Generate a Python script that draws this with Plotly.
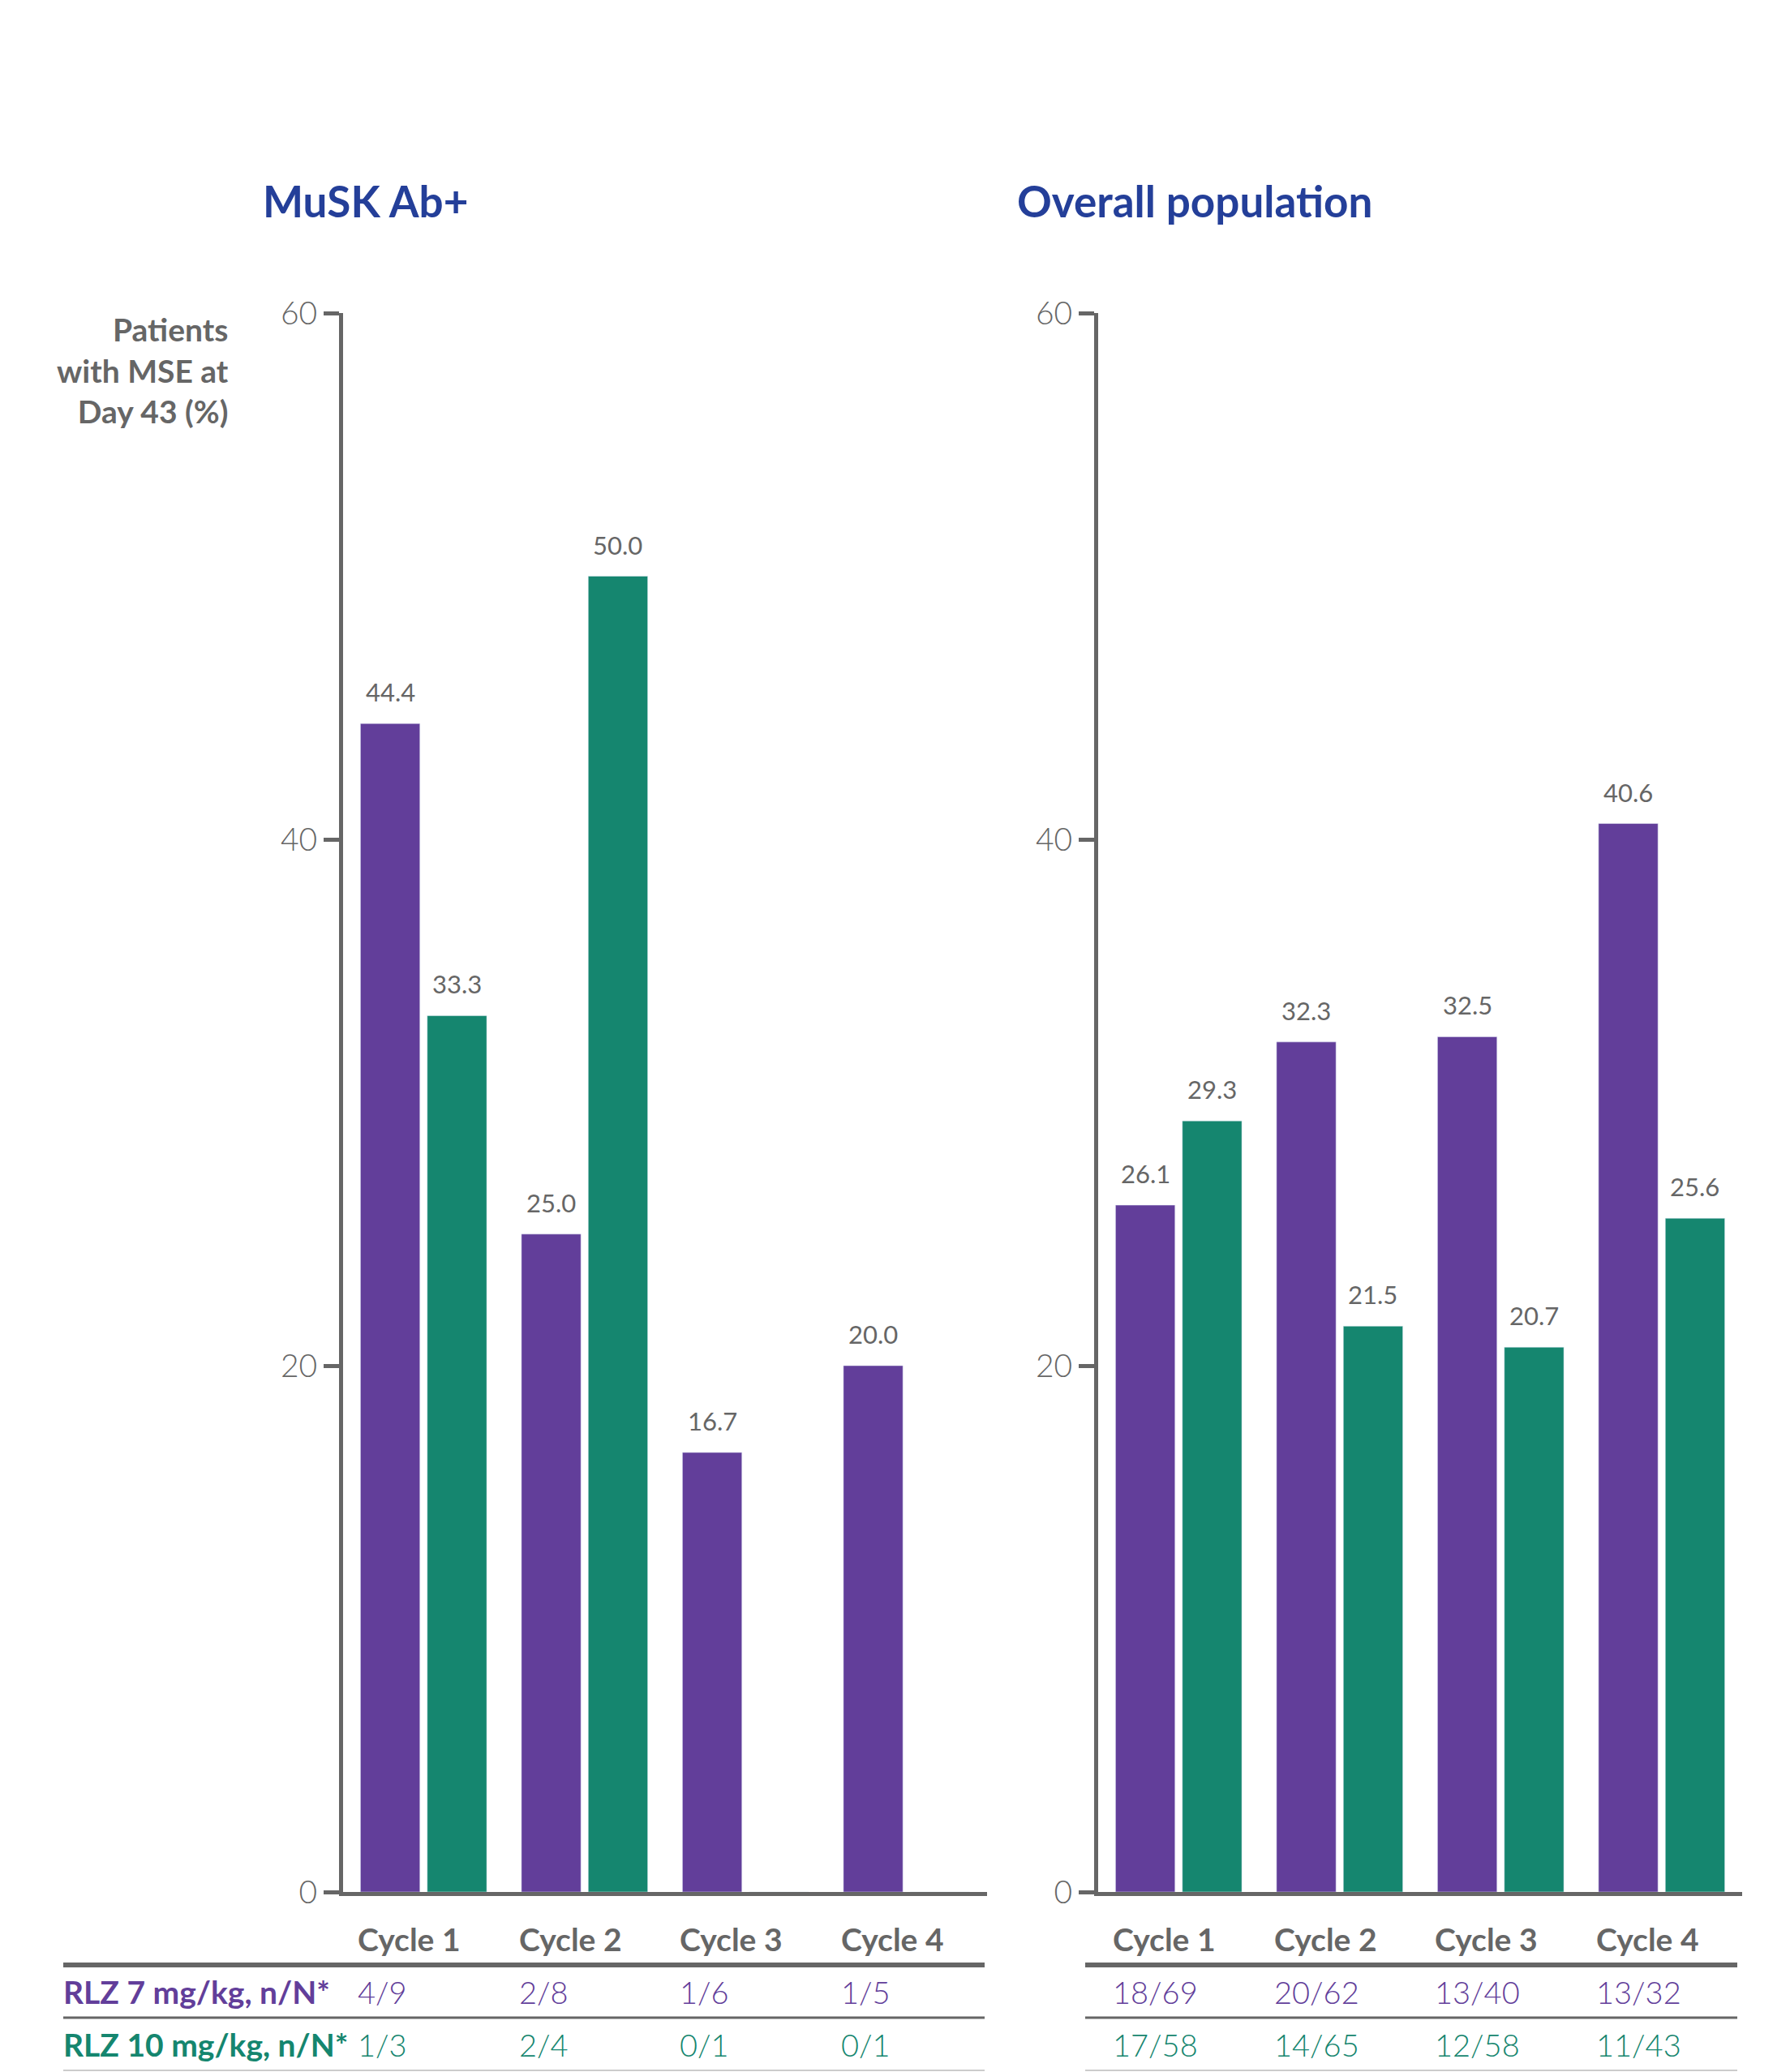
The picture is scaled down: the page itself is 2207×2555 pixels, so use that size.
import plotly.graph_objects as go

W, H = 2207, 2555

cycles = ["Cycle 1", "Cycle 2", "Cycle 3", "Cycle 4"]
musk_7 = [44.4, 25.0, 16.7, 20.0]
musk_10 = [33.3, 50.0, 0.0, 0.0]
overall_7 = [26.1, 32.3, 32.5, 40.6]
overall_10 = [29.3, 21.5, 20.7, 25.6]

musk_7_nN = ["4/9", "2/8", "1/6", "1/5"]
musk_10_nN = ["1/3", "2/4", "0/1", "0/1"]
overall_7_nN = ["18/69", "20/62", "13/40", "13/32"]
overall_10_nN = ["17/58", "14/65", "12/58", "11/43"]

panel_titles = ["MuSK Ab+", "Overall population"]
row_labels = ["RLZ 7 mg/kg, n/N*", "RLZ 10 mg/kg, n/N*"]
y_title = "Patients<br>with MSE at<br>Day 43 (%)"
y_ticks = [0, 20, 40, 60]

PURPLE = "#623E9A"
GREEN = "#15866F"
GRAY = "#666666"
BLUE = "#243F99"
FONT = "Lato"

def px(v):
    return v / W

def py(v):
    return 1 - v / H

fig = go.Figure()

panels = [
    ("x", "y", musk_7, musk_10, musk_7_nN, musk_10_nN),
    ("x2", "y2", overall_7, overall_10, overall_7_nN, overall_10_nN),
]
for xa, ya, v7, v10, t7, t10 in panels:
    fig.add_trace(go.Bar(x=cycles, y=v7, marker_color=PURPLE, xaxis=xa, yaxis=ya,
                         showlegend=False, hoverinfo="skip", offsetgroup="a"))
    fig.add_trace(go.Bar(x=cycles, y=v10, marker_color=GREEN, xaxis=xa, yaxis=ya,
                         showlegend=False, hoverinfo="skip", offsetgroup="b"))

x_domains = [[px(423), px(1217)], [px(1354), px(2148)]]
y_domain = [py(2333), py(386)]

axis_common = dict(showgrid=False, zeroline=False, showline=True, linecolor=GRAY,
                   linewidth=5, automargin=False)
tickfont = dict(size=39, color=GRAY, family=FONT, weight=300)
fig.update_layout(
    width=W, height=H,
    margin=dict(l=0, r=0, t=0, b=0, pad=0, autoexpand=False),
    paper_bgcolor="white", plot_bgcolor="white",
    barmode="group", bargap=0.17, bargroupgap=0.11,
    font=dict(family=FONT, color=GRAY),
    xaxis=dict(domain=x_domains[0], anchor="y", showticklabels=False, ticks="",
               range=[-0.5, 3.5], **axis_common),
    xaxis2=dict(domain=x_domains[1], anchor="y2", showticklabels=False, ticks="",
                range=[-0.5, 3.5], **axis_common),
    yaxis=dict(domain=y_domain, anchor="x", range=[0, 60], tickvals=y_ticks,
               ticks="outside", ticklen=19, tickwidth=5, tickcolor=GRAY,
               tickfont=tickfont, **axis_common),
    yaxis2=dict(domain=y_domain, anchor="x2", range=[0, 60], tickvals=y_ticks,
                ticks="outside", ticklen=19, tickwidth=5, tickcolor=GRAY,
                tickfont=tickfont, **axis_common),
)

ann = []
for title, xpos in zip(panel_titles, [322, 1252]):
    ann.append(dict(text=f"<b>{title}</b>", xref="paper", yref="paper", x=px(xpos), y=py(248),
                    xanchor="left", yanchor="middle", showarrow=False,
                    font=dict(size=53, color=BLUE, family=FONT)))
ann.append(dict(text=f"<b>{y_title}</b>", xref="paper", yref="paper", x=px(284), y=py(457),
                xanchor="right", yanchor="middle", align="right", showarrow=False,
                font=dict(size=39, color=GRAY, family=FONT)))

for (xa, ya, v7, v10, t7, t10) in panels:
    for vals, shift in [(v7, -41), (v10, 41)]:
        for c, v in zip(cycles, vals):
            if v > 0:
                ann.append(dict(text=f"{v:.1f}", xref=xa, yref=ya, x=c, y=v,
                                xanchor="center", yanchor="bottom", xshift=shift, yshift=18,
                                showarrow=False, font=dict(size=31, color=GRAY, family=FONT)))

for (xa, ya, v7, v10, t7, t10) in panels:
    for c, a, b in zip(cycles, t7, t10):
        ann.append(dict(text=f"<b>{c}</b>", xref=xa, yref="paper", x=c, y=py(2391),
                        xanchor="left", yanchor="middle", xshift=-83, showarrow=False,
                        font=dict(size=39, color=GRAY, family=FONT)))
        ann.append(dict(text=a, xref=xa, yref="paper", x=c, y=py(2456),
                        xanchor="left", yanchor="middle", xshift=-83, showarrow=False,
                        font=dict(size=38, color=PURPLE, family=FONT, weight=300)))
        ann.append(dict(text=b, xref=xa, yref="paper", x=c, y=py(2521),
                        xanchor="left", yanchor="middle", xshift=-83, showarrow=False,
                        font=dict(size=38, color=GREEN, family=FONT, weight=300)))
for lab, yv, col in zip(row_labels, [2456, 2521], [PURPLE, GREEN]):
    ann.append(dict(text=f"<b>{lab}</b>", xref="paper", yref="paper", x=px(76), y=py(yv),
                    xanchor="left", yanchor="middle", showarrow=False,
                    font=dict(size=39, color=col, family=FONT)))
fig.update_layout(annotations=ann)

shapes = []
for x0, x1 in [(78, 1214), (1338, 2142)]:
    shapes.append(dict(type="line", xref="paper", yref="paper", x0=px(x0), x1=px(x1),
                       y0=py(2423), y1=py(2423), line=dict(color=GRAY, width=6)))
    shapes.append(dict(type="line", xref="paper", yref="paper", x0=px(x0), x1=px(x1),
                       y0=py(2488), y1=py(2488), line=dict(color=GRAY, width=3)))
    shapes.append(dict(type="line", xref="paper", yref="paper", x0=px(x0), x1=px(x1),
                       y0=py(2553), y1=py(2553), line=dict(color="#CCCCCC", width=2)))
fig.update_layout(shapes=shapes)

fig.write_html("out.html")
